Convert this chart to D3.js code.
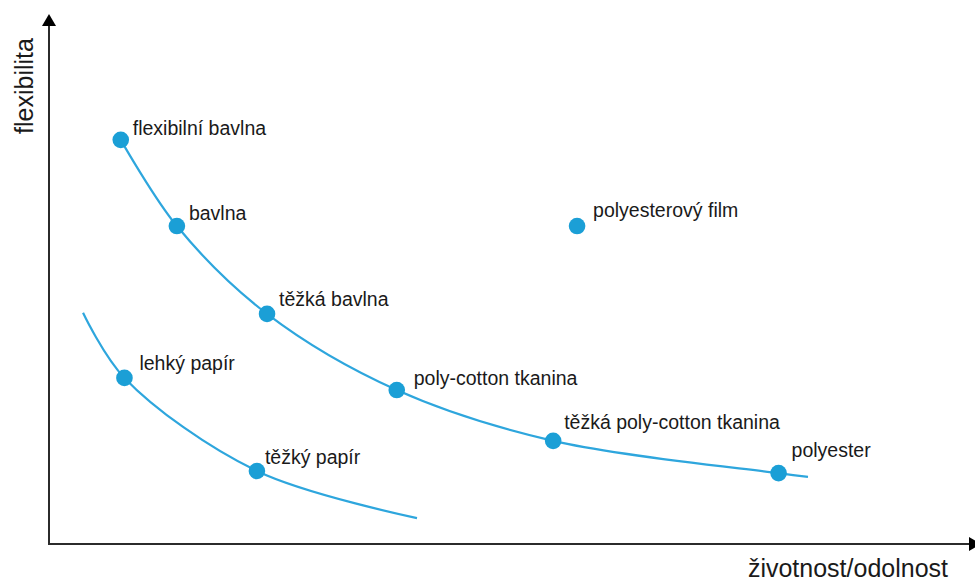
<!DOCTYPE html>
<html>
<head>
<meta charset="utf-8">
<script src="https://cdn.jsdelivr.net/npm/d3@7"></script>
<style>
  html, body { margin: 0; padding: 0; background: #fff; }
  svg { display: block; }
  text { font-family: "Liberation Sans", Arial, sans-serif; fill: #1a1a1a; }
</style>
</head>
<body>
<svg id="chart" width="975" height="583"></svg>
<script>
// ---------- DATA ----------
const materials   = ["flexibilní bavlna", "bavlna", "těžká bavlna", "poly-cotton tkanina",
                     "těžká poly-cotton tkanina", "polyester", "polyesterový film",
                     "lehký papír", "těžký papír"];
const durability  = [7.8, 13.9, 23.7, 37.8, 54.8, 79.3, 57.4, 8.2, 22.6];
const flexibility = [76.4, 60.1, 43.5, 29.1, 19.5, 13.4, 60.1, 31.4, 13.8];

// trend curves (durability, flexibility)
const clothTrendX = [7.8, 13.9, 23.7, 37.8, 54.8, 79.3, 82.5];
const clothTrendY = [76.4, 60.1, 43.5, 29.1, 19.5, 13.4, 12.7];
const paperTrendX = [3.7, 8.2, 22.6, 40.0];
const paperTrendY = [43.7, 31.4, 13.8, 4.9];

const xAxisTitle = "životnost/odolnost";
const yAxisTitle = "flexibilita";

// ---------- LAYOUT ----------
const W = 975, H = 583;
const x0 = 49, y0 = 544;
const x = d3.scaleLinear().domain([0, 100]).range([x0, 969]);
const y = d3.scaleLinear().domain([0, 100]).range([y0, 15]);

// label nudges (pixels) per label, in the order of `materials`
const labelDx = [12, 12, 12, 17, 11, 13, 16, 15, 8];
const labelDy = [-5, -6, -8, -5, -12, -16, -9, -8, -7];

const pointColor = "#1b9fd6";
const lineColor = "#2ea6dd";
const axisColor = "#2b2b2b";

const svg = d3.select("#chart");

// axes
svg.append("line").attr("x1", x0).attr("y1", y0 + 1).attr("x2", x0).attr("y2", 24)
  .attr("stroke", axisColor).attr("stroke-width", 2);
svg.append("path").attr("d", `M${x0 - 7},26 L${x0},14 L${x0 + 7},26 Z`).attr("fill", "#000");

svg.append("line").attr("x1", x0 - 1).attr("y1", y0).attr("x2", 970).attr("y2", y0)
  .attr("stroke", axisColor).attr("stroke-width", 2);
svg.append("path").attr("d", `M969,${y0 - 7} L981,${y0} L969,${y0 + 7} Z`).attr("fill", "#000");

// axis titles
svg.append("text")
  .attr("transform", `translate(33,86) rotate(-90)`)
  .attr("text-anchor", "middle")
  .style("font-size", "25px")
  .text(yAxisTitle);

svg.append("text")
  .attr("x", 948).attr("y", 577)
  .attr("text-anchor", "end")
  .style("font-size", "25px")
  .text(xAxisTitle);

// trend curves
const line = d3.line()
  .x(d => x(d[0])).y(d => y(d[1]))
  .curve(d3.curveCatmullRom.alpha(0.5));

const clothPts = clothTrendX.map((v, i) => [v, clothTrendY[i]]);
const paperPts = paperTrendX.map((v, i) => [v, paperTrendY[i]]);

[clothPts, paperPts].forEach(pts => {
  svg.append("path").attr("d", line(pts))
    .attr("fill", "none").attr("stroke", lineColor).attr("stroke-width", 2.2);
});

// points
const pts = materials.map((m, i) => ({ name: m, x: durability[i], y: flexibility[i], i }));

svg.selectAll("circle.pt").data(pts).join("circle")
  .attr("class", "pt")
  .attr("cx", d => x(d.x)).attr("cy", d => y(d.y)).attr("r", 8.3)
  .attr("fill", pointColor);

svg.selectAll("text.lbl").data(pts).join("text")
  .attr("class", "lbl")
  .attr("x", d => x(d.x) + labelDx[d.i])
  .attr("y", d => y(d.y) + labelDy[d.i])
  .style("font-size", "19.5px")
  .text(d => d.name);
</script>
</body>
</html>
